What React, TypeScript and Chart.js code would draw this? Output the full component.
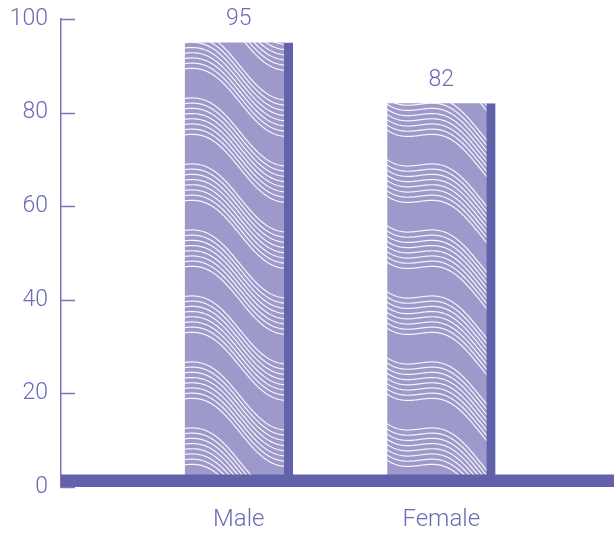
import React, { useEffect, useRef } from "react";
import { Chart, registerables } from "chart.js";

Chart.register(...registerables);

const categories = ["Male", "Female"];
const values = [95, 82];
const yTicks = [0, 20, 40, 60, 80, 100];

const TEXT = "#6b6bb6";
const LIGHT = "#9d99cb";
const DARK = "#6262aa";
const AXIS = "#7877bc";
const FONT = "Roboto, 'Liberation Sans', sans-serif";

function makePattern(): CanvasPattern | string {
  const W = 120;
  const H = 66;
  const c = document.createElement("canvas");
  c.width = W;
  c.height = H;
  const g = c.getContext("2d");
  if (!g) return LIGHT;
  g.fillStyle = LIGHT;
  g.fillRect(0, 0, W, H);
  g.strokeStyle = "rgba(255,255,255,0.9)";
  g.lineWidth = 1.2;
  const slope = H / W;
  for (let oy = -3 * H; oy <= 2 * H; oy += H) {
    for (let k = 0; k < 8; k++) {
      g.beginPath();
      for (let x = -2; x <= W + 2; x += 1) {
        const y = oy + k * 5.2 + slope * x + 13 * Math.sin((2 * Math.PI * x) / W);
        if (x === -2) g.moveTo(x, y);
        else g.lineTo(x, y);
      }
      g.stroke();
    }
  }
  return g.createPattern(c, "repeat") || LIGHT;
}

const decorPlugin = {
  id: "decor",
  afterDatasetsDraw(chart: any) {
    const { ctx, chartArea, scales } = chart;
    const y = scales.y;
    ctx.save();
    const y0 = y.getPixelForValue(0);
    ctx.fillStyle = DARK;
    ctx.fillRect(chartArea.left, y0 - 12.5, chartArea.right - chartArea.left, 12.5);
    ctx.strokeStyle = AXIS;
    ctx.lineWidth = 1.5;
    for (const t of yTicks) {
      const py = Math.round(y.getPixelForValue(t)) + 0.5;
      ctx.beginPath();
      ctx.moveTo(chartArea.left, py);
      ctx.lineTo(chartArea.left + 14, py);
      ctx.stroke();
    }
    const meta = chart.getDatasetMeta(0);
    ctx.fillStyle = TEXT;
    ctx.font = `300 23px ${FONT}`;
    ctx.textAlign = "center";
    ctx.textBaseline = "middle";
    meta.data.forEach((el: any, i: number) => {
      ctx.fillText(String(values[i]), el.x, el.y - 23);
    });
    ctx.restore();
  },
};

export default function App() {
  const ref = useRef<HTMLCanvasElement>(null);
  useEffect(() => {
    if (!ref.current) return;
    const pattern = makePattern();
    const chart = new Chart(ref.current, {
      type: "bar",
      data: {
        datasets: [
          {
            data: values.map((v, i) => ({ x: i, y: v })),
            backgroundColor: pattern as any,
            borderColor: DARK,
            borderWidth: { top: 0, left: 0, bottom: 0, right: 9 },
            borderSkipped: false,
            barThickness: 108,
          },
        ],
      },
      options: {
        animation: false,
        responsive: true,
        maintainAspectRatio: false,
        layout: { padding: { top: 19, left: 0, right: 0, bottom: 0 } },
        plugins: {
          legend: { display: false },
          tooltip: { enabled: false },
        },
        scales: {
          x: {
            type: "linear",
            offset: false,
            min: -0.8778,
            max: 1.853,
            grid: { display: false, drawTicks: false },
            border: { display: false },
            afterBuildTicks: (s: any) => {
              s.ticks = categories.map((_, i) => ({ value: i }));
            },
            afterFit: (s: any) => {
              s.height = 46;
              s.paddingLeft = 0;
              s.paddingRight = 0;
            },
            ticks: {
              color: TEXT,
              font: { family: FONT, size: 24, weight: "300" as any },
              padding: 19,
              maxRotation: 0,
              callback: (v: any) => categories[v as number] ?? "",
            },
          },
          y: {
            min: 0,
            max: 100,
            grid: { display: false, drawTicks: false },
            border: { display: true, color: AXIS, width: 1.5 },
            afterFit: (s: any) => {
              s.width = 61;
              s.paddingTop = 0;
              s.paddingBottom = 0;
            },
            ticks: {
              stepSize: 20,
              color: TEXT,
              font: { family: FONT, size: 23, weight: "300" as any },
              padding: 13,
            },
          },
        },
      },
      plugins: [decorPlugin],
    });
    return () => chart.destroy();
  }, []);
  return (
    <div style={{ position: "absolute", left: 0, top: 0, width: 614, height: 533 }}>
      <canvas ref={ref} />
    </div>
  );
}
